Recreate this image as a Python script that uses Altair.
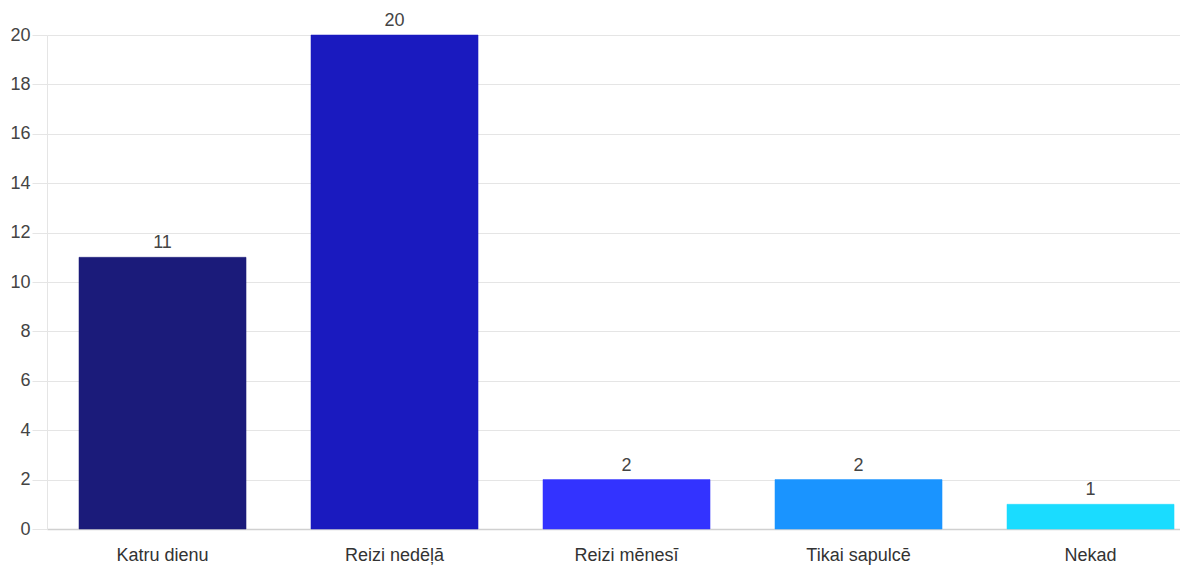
import altair as alt
import pandas as pd

categories = ["Katru dienu", "Reizi nedēļā", "Reizi mēnesī", "Tikai sapulcē", "Nekad"]
values = [11, 20, 2, 2, 1]
colors = ["#1b1b7a", "#1a1abf", "#3333ff", "#1a94ff", "#1adcff"]

df = pd.DataFrame({"cat": categories, "val": values, "col": colors})

FONT = "Liberation Sans"

x = alt.X("cat:N", sort=categories, title=None,
          scale=alt.Scale(paddingInner=0.28, paddingOuter=0.0818, align=0.843),
          axis=alt.Axis(labelAngle=0, labelFontSize=18, labelColor="#333", labelFont=FONT,
                        ticks=False, labelPadding=17, domainColor="#d0d0d0", domainWidth=1.5,
                        grid=False))
y = alt.Y("val:Q", title=None,
          scale=alt.Scale(domain=[0, 20], nice=False),
          axis=alt.Axis(values=list(range(0, 21, 2)), labelFontSize=18, labelColor="#444",
                        labelFont=FONT, tickSize=15, tickColor="#e5e5e5", gridColor="#e5e5e5",
                        domainColor="#e5e5e5", labelPadding=2))

bars = alt.Chart(df).mark_bar(strokeWidth=1, strokeOpacity=0.5).encode(
    x=x, y=y,
    color=alt.Color("col:N", scale=None),
    stroke=alt.Color("col:N", scale=None),
)
text = alt.Chart(df).mark_text(baseline="alphabetic", dy=-9, fontSize=18, color="#444", font=FONT).encode(
    x=alt.X("cat:N", sort=categories), y="val:Q", text="val:Q"
)

chart = alt.layer(bars, text).properties(
    width=1133, height=494,
    autosize=alt.AutoSizeParams(type="none"),
    padding={"left": 39, "top": 27, "right": 0, "bottom": 37},
).configure_view(stroke=None)

chart.save("out.html", embed_options={"renderer": "svg", "actions": False})
